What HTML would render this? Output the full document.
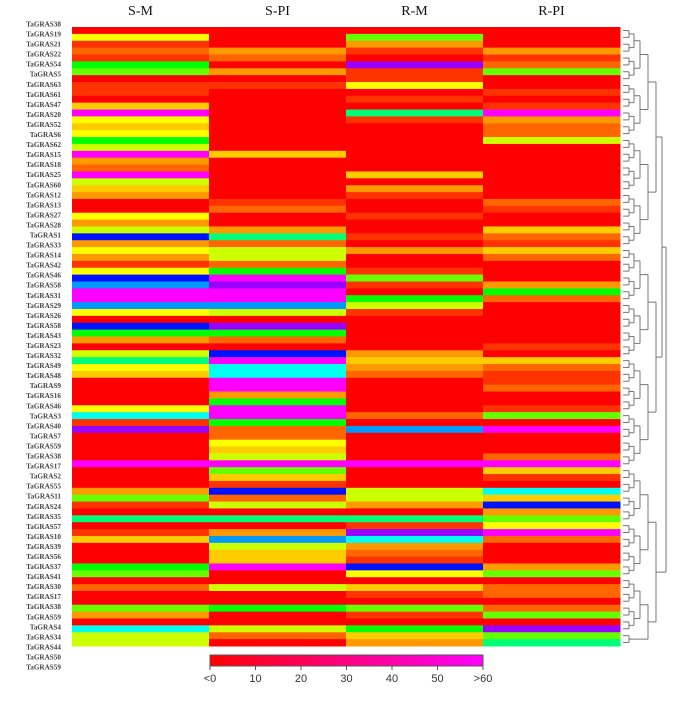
<!DOCTYPE html>
<html><head><meta charset="utf-8">
<style>
html,body{margin:0;padding:0;background:#fff;}
svg{display:block;font-family:"Liberation Serif",serif;}
</style></head>
<body>
<svg id="chart" width="683" height="701" viewBox="0 0 683 701"></svg>
<script>
const columns = ["S-M","S-PI","R-M","R-PI"];
const rowLabels = [38,19,21,22,54,5,63,61,47,20,52,6,62,15,18,25,60,12,13,27,28,1,33,14,42,46,58,31,29,26,58,43,23,32,49,48,9,16,46,3,40,7,59,38,17,2,55,11,24,35,57,10,39,56,37,41,30,17,38,59,4,34,44,50,59];
const colSM  = "RYrorGLRrrRgMYgYGlMOoMl"+"gORRYOlBOYOrYBbMMbYRBGO"+"RlsYgRRRRYcrvRRRRMRRRO"+"LrRsRrgRRRGLRoRRLORcll";
const colSPI = "RRROoRORrRRRRRRRRRgRRRR"+"RRroRROsolloGMvMMblRvGo"+"RBMccMMOGMMGooYglMLgrB"+"olRsROblggMRRlRRGRRloR";
const colRM  = "RLOrRvrrYRrRsrRRRRRRRgR"+"OrRRrRRrRORRrLrRGlrRRRR"+"ROgOoRRRRRoRbRRRRMRRRl"+"lORsrvcOorBYRgrRLrRGgO";
const colRPI = "RRROroLRRrRrMOoolRRRRRR"+"RRorRRgorgoRRROGoRRRRRR"+"rRgorroRRrLRMRRRoMgrRc"+"gBOLYMoRRROLRooRoLRvLs";
const legendTicks = ["<0","10","20","30","40","50",">60"];
const legendTickVals = [0,10,20,30,40,50,60];

const palette = {R:"#ff0000",r:"#ff3300",o:"#ff6600",O:"#ff9900",g:"#ffcc00",Y:"#ffff00",l:"#ccff00",L:"#66ff00",G:"#00ff00",s:"#00ff77",c:"#00ffee",b:"#0099ff",B:"#0011ff",v:"#9900ff",M:"#ff00ff"};
const series = [colSM,colSPI,colRM,colRPI];
const NS="http://www.w3.org/2000/svg";
const svg=document.getElementById('chart');
function mk(tag,attrs,parent){const e=document.createElementNS(NS,tag);for(const k in attrs)e.setAttribute(k,attrs[k]);(parent||svg).appendChild(e);return e;}

const X0=72,X1=620,Y0=27,Y1=646;
const nRows=colSM.length;
const colW=(X1-X0)/columns.length, rowH=(Y1-Y0)/nRows;
const xCol=i=>X0+i*colW, yRow=i=>Y0+i*rowH;

const gCells=mk('g',{});


series.forEach((s,ci)=>{
  for(let r=0;r<s.length;r++){
    const rc=mk('rect',{x:xCol(ci),y:yRow(r),width:colW+0.5,height:rowH+0.5,fill:palette[s[r]]||"#f00"},gCells);
    
    
  }
});

columns.forEach((c,i)=>{
  const t=mk('text',{x:xCol(i)+colW/2,y:15,'text-anchor':'middle','font-size':14,fill:'#111'});
  t.textContent=c;
  
  
});

const labStep=(667-24)/(rowLabels.length-1);
rowLabels.forEach((n,i)=>{
  const t=mk('text',{x:61,y:24+i*labStep+2.5,'text-anchor':'end','font-size':7.2,'font-weight':'bold',fill:'#444'});
  t.textContent='TaGRAS'+n;
  
  
});

// dendrogram (approximate balanced tree)
const gD=mk('g',{stroke:'#777','stroke-width':1,fill:'none'});


let nodes=[];
for(let r=0;r<nRows;r++)nodes.push({y:yRow(r)+rowH/2,x:623});
const levelX=[629,634,640,648,656,662,666,669];
let lv=0;
while(nodes.length>1){
  const nx=[];const X=levelX[Math.min(lv,levelX.length-1)];
  for(let i=0;i<nodes.length;i+=2){
    if(i+1<nodes.length){
      const a=nodes[i],b=nodes[i+1];
      mk('path',{d:`M${a.x},${a.y}H${X}M${b.x},${b.y}H${X}M${X},${a.y}V${b.y}`},gD);
      nx.push({x:X,y:(a.y+b.y)/2});
    } else nx.push(nodes[i]);
  }
  nodes=nx;lv++;
}

// legend
const defs=mk('defs',{});
const lg=mk('linearGradient',{id:'lg',x1:0,x2:1,y1:0,y2:0},defs);
mk('stop',{offset:'0','stop-color':'#ff0000'},lg);
mk('stop',{offset:'0.5','stop-color':'#ff0080'},lg);
mk('stop',{offset:'1','stop-color':'#ff00ff'},lg);
const LX0=210,LX1=483;
const lr=mk('rect',{x:LX0,y:655,width:LX1-LX0,height:11,fill:'url(#lg)',stroke:'#555','stroke-width':1});


const lx=v=>LX0+(v/60)*(LX1-LX0);
legendTicks.forEach((t,i)=>{
  const x=lx(legendTickVals[i]);
  mk('line',{x1:x,x2:x,y1:666,y2:670,stroke:'#555'});
  const tx=mk('text',{x:x,y:682,'text-anchor':'middle','font-size':11,'font-family':'Liberation Sans, sans-serif',fill:'#333'});
  tx.textContent=t;
  
  
});
</script>
</body></html>
